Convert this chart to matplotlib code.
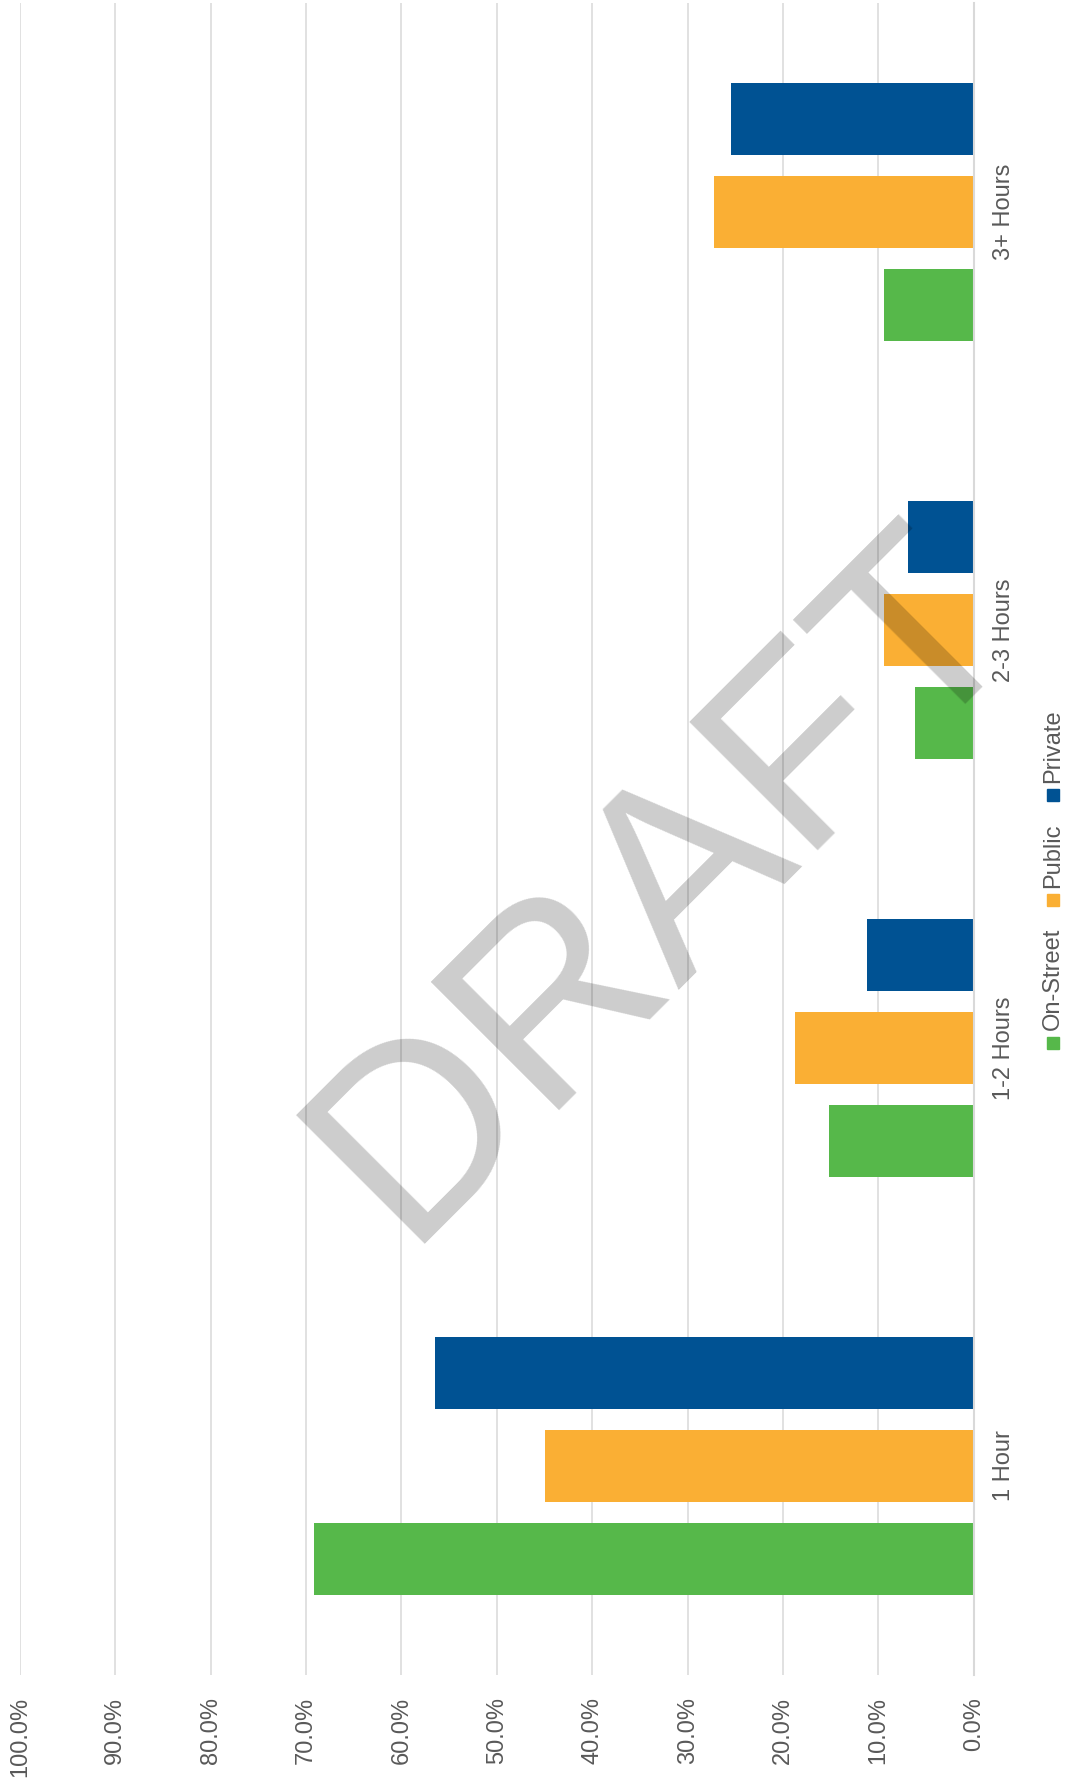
import numpy as np
import matplotlib
matplotlib.use("Agg")
import matplotlib.pyplot as plt
from matplotlib.patches import Rectangle

plt.rcParams["font.family"] = ["Liberation Sans", "DejaVu Sans"]

# data (percent of parkers by duration)
categories = ["1 Hour", "1-2 Hours", "2-3 Hours", "3+ Hours"]
series_names = ["On-Street", "Public", "Private"]
on_street = [69.2, 15.2, 6.2, 9.4]
public = [44.9, 18.7, 9.4, 27.2]
private = [56.5, 11.2, 6.9, 25.5]
value_ticks = [0, 10, 20, 30, 40, 50, 60, 70, 80, 90, 100]

colors = ["#56B84A", "#FAAF34", "#005293"]
text_grey = "#595959"
grid_grey = "#D9D9D9"

W, H = 1070, 1786
fig = plt.figure(figsize=(W / 100, H / 100), dpi=100)
ax = fig.add_axes([20 / W, (H - 1675) / H, (973.7 - 20) / W, (1675 - 3) / H])

# chart is drawn rotated: categories go up, values go left
y = np.arange(len(categories))
bar_h = 0.173
step = 0.2225
for i, (vals, c) in enumerate(zip([on_street, public, private], colors)):
    ax.barh(y + (i - 1) * step, vals, height=bar_h, color=c, zorder=2)

ax.set_xlim(100, 0)
ax.set_ylim(-0.5, len(categories) - 0.5)
ax.set_xticks(value_ticks)
ax.set_xticklabels(["{:.1f}%".format(v) for v in value_ticks], rotation=90,
                   ha="center", va="top", color=text_grey, fontsize=17)
ax.yaxis.tick_right()
ax.set_yticks(y)
ax.set_yticklabels(categories, rotation=90, va="center", ha="left",
                   color=text_grey, fontsize=17)
ax.tick_params(axis="x", length=0, pad=16)
ax.tick_params(axis="y", length=0, pad=14)
ax.grid(axis="x", color=grid_grey, linewidth=1.1, zorder=0)
ax.set_axisbelow(True)
for s in ["top", "left", "bottom"]:
    ax.spines[s].set_visible(False)
ax.spines["right"].set_color(grid_grey)
ax.spines["right"].set_linewidth(1.5)

# legend, rotated like the rest of the chart
fig.canvas.draw()
renderer = fig.canvas.get_renderer()
sq = 12.5
x_leg = 1053
ypos = 1049
for name, c in zip(series_names, colors):
    fig.patches.append(Rectangle(((x_leg - sq / 2) / W, (H - ypos) / H), sq / W, sq / H,
                                 transform=fig.transFigure, color=c))
    ypos -= sq + 6
    t = fig.text(x_leg / W, (H - ypos) / H, name, rotation=90, ha="center", va="bottom",
                 color=text_grey, fontsize=17)
    ext = t.get_window_extent(renderer)
    ypos -= ext.height + 22

# watermark
fig.text(666 / W, 1 - 885 / H, "DRAFT", rotation=45, ha="center", va="center",
         fontsize=190, color="black", alpha=0.2, zorder=10)

fig.savefig("out.png", dpi=100)
